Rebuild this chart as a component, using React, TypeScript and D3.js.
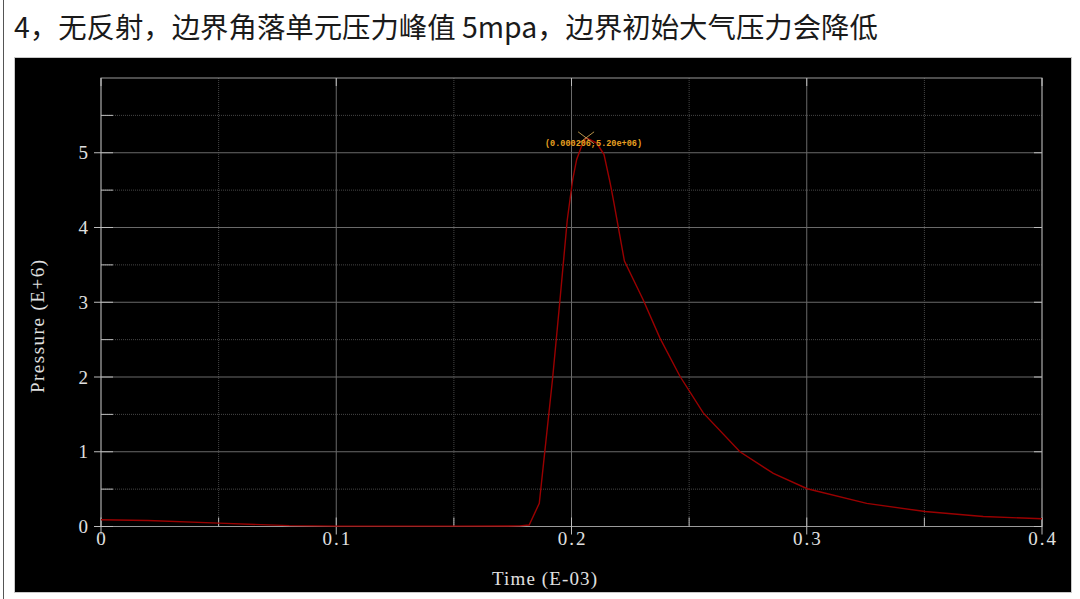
import React from 'react';
import * as d3 from 'd3';

// Time in E-03 s, pressure in E+6 Pa
const timeValues = [
  0, 0.02, 0.05, 0.08, 0.1, 0.15, 0.178, 0.182, 0.1863, 0.1919, 0.1951, 0.1982,
  0.2005, 0.2022, 0.2043, 0.2062, 0.2107, 0.2138, 0.2164, 0.2178, 0.2225, 0.2305,
  0.2376, 0.2461, 0.256, 0.2716, 0.2858, 0.3002, 0.3255, 0.3503, 0.375, 0.4
];
const pressureValues = [
  0.09, 0.08, 0.045, 0.012, 0.005, 0.005, 0.008, 0.02, 0.31, 1.96, 3.03, 4.1,
  4.64, 4.91, 5.09, 5.2, 5.13, 4.98, 4.6, 4.37, 3.55, 3.03,
  2.52, 2.01, 1.52, 1.0, 0.71, 0.505, 0.31, 0.2, 0.134, 0.103
];

const xTicks = [0, 0.1, 0.2, 0.3, 0.4];
const xTickLabels = ['0', '0.1', '0.2', '0.3', '0.4'];
const xMinorTicks = [0.05, 0.15, 0.25, 0.35];
const yTicks = [0, 1, 2, 3, 4, 5];
const yTickLabels = ['0', '1', '2', '3', '4', '5'];
const yMinorTicks = [0.5, 1.5, 2.5, 3.5, 4.5, 5.5];

const titleText = '4，无反射，边界角落单元压力峰值 5mpa，边界初始大气压力会降低';
const xAxisTitle = 'Time (E-03)';
const yAxisTitle = 'Pressure (E+6)';
const peakLabel = '(0.000206,5.20e+06)';

const W = 1080;
const H = 599;
const panel = { left: 14.5, top: 57.5, right: 1071.5, bottom: 592.5 };
const plot = { left: 101, top: 78, right: 1042, bottom: 526.5 };

const tickFont = '"Liberation Serif", "DejaVu Serif", serif';

export default function App() {
  const points = timeValues.map((t, i) => ({ t, p: pressureValues[i] }));

  const x = d3.scaleLinear().domain([0, 0.4]).range([plot.left, plot.right]);
  const y = d3.scaleLinear().domain([0, 6]).range([plot.bottom, plot.top]);

  const line = d3.line<{ t: number; p: number }>()
    .x(d => x(d.t))
    .y(d => y(d.p));

  const peak = points.reduce((a, b) => (b.p > a.p ? b : a), points[0]);
  const px = x(peak.t);
  const py = y(peak.p);

  const majorGrid = '#6a6a6a';
  const minorGrid = '#464646';
  const frame = '#9a9a9a';
  const tickColor = '#bdbdbd';

  return (
    <svg width={W} height={H} style={{ position: 'absolute', left: 0, top: 0, background: '#fff' }}>
      {/* page edge */}
      <line x1={3.5} x2={3.5} y1={0} y2={H} stroke="#555" strokeWidth={1} />

      <text x={14} y={38} fontFamily='"Noto Sans CJK SC", sans-serif' fontSize={28.4} fill="#1a1a1a">
        {titleText}
      </text>

      <rect x={panel.left} y={panel.top} width={panel.right - panel.left} height={panel.bottom - panel.top}
        fill="#000" stroke="#c8c8c8" strokeWidth={1} />

      {/* minor grid */}
      {xMinorTicks.map(v => (
        <line key={'xm' + v} x1={x(v)} x2={x(v)} y1={plot.top} y2={plot.bottom}
          stroke={minorGrid} strokeDasharray="1,1" />
      ))}
      {yMinorTicks.map(v => (
        <line key={'ym' + v} x1={plot.left} x2={plot.right} y1={y(v)} y2={y(v)}
          stroke={minorGrid} strokeDasharray="1,1" />
      ))}

      {/* major grid */}
      {xTicks.map(v => (
        <line key={'xg' + v} x1={x(v)} x2={x(v)} y1={plot.top} y2={plot.bottom} stroke={majorGrid} />
      ))}
      {yTicks.map(v => (
        <line key={'yg' + v} x1={plot.left} x2={plot.right} y1={y(v)} y2={y(v)} stroke={majorGrid} />
      ))}

      {/* frame */}
      <rect x={plot.left} y={plot.top} width={plot.right - plot.left} height={plot.bottom - plot.top}
        fill="none" stroke={frame} strokeWidth={1} />

      {/* ticks */}
      {yTicks.map(v => (
        <g key={'yt' + v}>
          <line x1={plot.left - 7} x2={plot.left + 12} y1={y(v)} y2={y(v)} stroke={tickColor} />
          <line x1={plot.right - 8} x2={plot.right} y1={y(v)} y2={y(v)} stroke={tickColor} />
        </g>
      ))}
      {yMinorTicks.map(v => (
        <line key={'ymt' + v} x1={plot.left} x2={plot.left + 12} y1={y(v)} y2={y(v)} stroke={tickColor} />
      ))}
      {xTicks.map(v => (
        <g key={'xt' + v}>
          <line x1={x(v)} x2={x(v)} y1={plot.bottom - 9} y2={plot.bottom + 8} stroke={tickColor} />
          <line x1={x(v)} x2={x(v)} y1={plot.top} y2={plot.top + 8} stroke={tickColor} />
        </g>
      ))}
      {xMinorTicks.map(v => (
        <line key={'xmt' + v} x1={x(v)} x2={x(v)} y1={plot.bottom - 9} y2={plot.bottom} stroke={tickColor} />
      ))}

      {/* tick labels */}
      {yTicks.map((v, i) => (
        <text key={'yl' + v} x={88} y={y(v) + 6.5} textAnchor="end" fontFamily={tickFont}
          fontSize={19} fill="#e0e0e0">{yTickLabels[i]}</text>
      ))}
      {xTicks.map((v, i) => (
        <text key={'xl' + v} x={x(v) + 1} y={545} textAnchor="middle" fontFamily={tickFont}
          fontSize={19} fill="#e0e0e0" letterSpacing={2}>{xTickLabels[i]}</text>
      ))}

      {/* axis titles */}
      <text x={492} y={585} fontFamily={tickFont} fontSize={19} fill="#e0e0e0"
        textLength={105} lengthAdjust="spacing">{xAxisTitle}</text>
      <text transform="translate(44,393) rotate(-90)" fontFamily={tickFont} fontSize={19} fill="#e0e0e0"
        textLength={133} lengthAdjust="spacing">{yAxisTitle}</text>

      {/* curve */}
      <path d={line(points) ?? ''} fill="none" stroke="#9a0000" strokeWidth={1.4} />

      {/* peak marker */}
      <line x1={px - 8} x2={px + 8} y1={py - 6} y2={py + 6} stroke="#b8944a" strokeWidth={1} />
      <line x1={px - 8} x2={px + 8} y1={py + 6} y2={py - 6} stroke="#b8944a" strokeWidth={1} />
      <text x={545} y={146} fontFamily='"Liberation Mono", "DejaVu Sans Mono", monospace' fontSize={9}
        fontWeight="bold" fill="#e8a020" textLength={97} lengthAdjust="spacingAndGlyphs">{peakLabel}</text>
    </svg>
  );
}
